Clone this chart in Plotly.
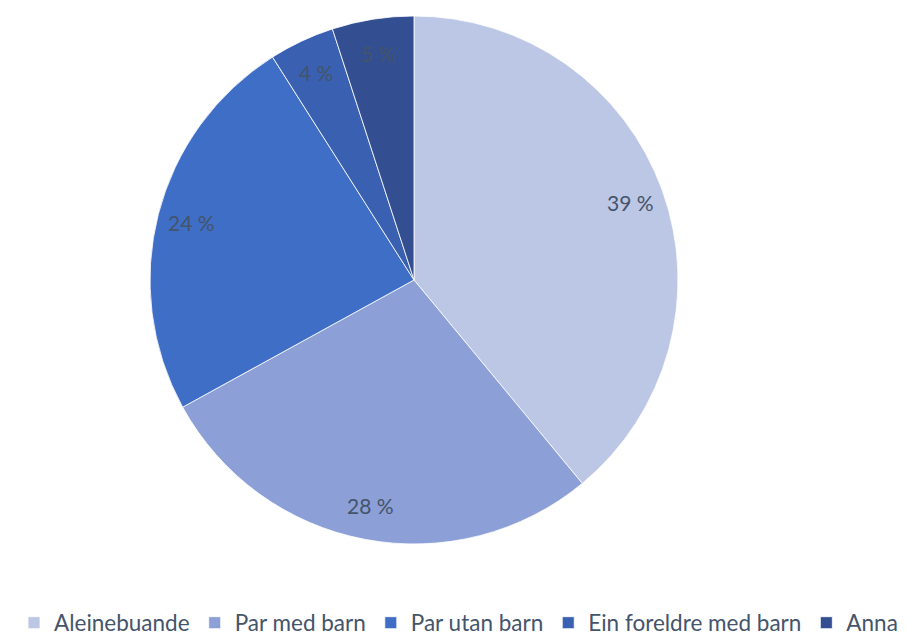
import math
import plotly.graph_objects as go

labels = ["Aleinebuande", "Par med barn", "Par utan barn", "Ein foreldre med barn", "Anna"]
values = [39, 28, 24, 4, 5]
colors = ["#bcc6e5", "#8c9fd7", "#3f6ec6", "#3a60b2", "#334f92"]

TEXT = "#44546a"
FONT = "Lato, Noto Sans, sans-serif"
# page body has an 8px margin, so the figure is a bit smaller than the window
W, H = 901, 629

# pie box in paper coords
dom_x = [0.1576, 0.7436]
dom_y = [0.1479, 0.9873]

fig = go.Figure()
fig.add_trace(go.Pie(
    labels=labels, values=values,
    sort=False, direction="clockwise", rotation=0,
    marker=dict(colors=colors, line=dict(color="white", width=0.8)),
    textinfo="none",
    hoverinfo="label+percent",
    domain=dict(x=dom_x, y=dom_y),
))

# data labels near the outer edge, like the original
cx = (dom_x[0] + dom_x[1]) / 2 * W
cy = (dom_y[0] + dom_y[1]) / 2 * H
r = min((dom_x[1] - dom_x[0]) * W, (dom_y[1] - dom_y[0]) * H) / 2
total = sum(values)
cum = 0
for v in values:
    ang = 2 * math.pi * (cum + v / 2) / total
    cum += v
    px = cx + 0.87 * r * math.sin(ang)
    py = cy + 0.87 * r * math.cos(ang)
    fig.add_annotation(
        x=px / W, y=py / H, xref="paper", yref="paper",
        xanchor="center", yanchor="middle",
        text=f"{v} %", showarrow=False,
        font=dict(family=FONT, size=21, color=TEXT),
    )

fig.update_layout(
    width=W, height=H,
    margin=dict(l=0, r=0, t=0, b=0, autoexpand=False),
    paper_bgcolor="white", plot_bgcolor="white",
    showlegend=True,
    legend=dict(
        orientation="h", x=0.5, xanchor="center", y=-0.012, yanchor="bottom",
        font=dict(family=FONT, size=22.5, color=TEXT),
        itemwidth=30, tracegroupgap=0,
    ),
)

fig.write_html("out.html")
